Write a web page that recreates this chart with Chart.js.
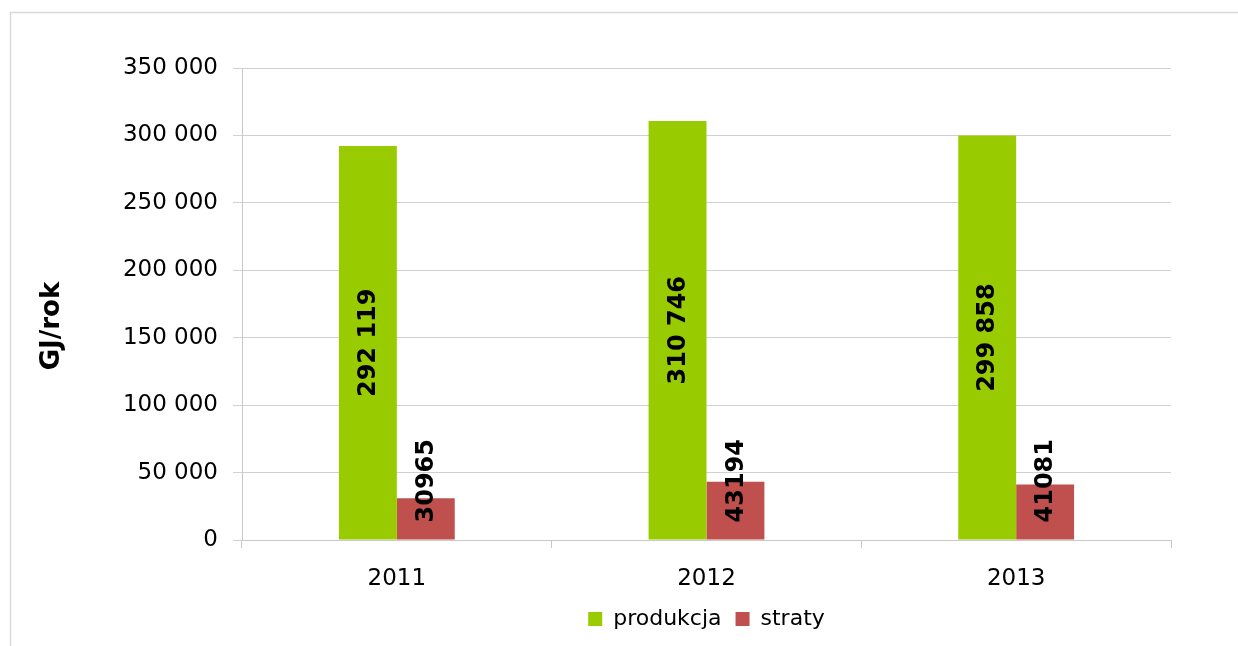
<!DOCTYPE html>
<html>
<head>
<meta charset="utf-8">
<script src="https://cdn.jsdelivr.net/npm/chart.js@4/dist/chart.umd.min.js"></script>
<style>
  body { margin: 0; background: #fff; }
  #wrap { width: 1238px; height: 646px; }
</style>
</head>
<body>
<div id="wrap"><canvas id="myChart" width="1238" height="646"></canvas></div>
<script>
const years = ['2011', '2012', '2013'];
const produkcja = [292119, 310746, 299858];
const straty = [30965, 43194, 41081];
const yTicks = [0, 50000, 100000, 150000, 200000, 250000, 300000, 350000];
const yTitle = 'GJ/rok';

function spaced(v){
    return v.toString().replace(/\B(?=(\d{3})+(?!\d))/g, ' ');
}

// outer frame of the chart object + y axis title
const framePlugin = {
    id: 'frame',
    beforeDraw(chart){
        const ctx = chart.ctx;
        ctx.save();
        ctx.strokeStyle = '#d9d9d9';
        ctx.lineWidth = 1.5;
        ctx.strokeRect(10.5, 12.5, 1400, 800);
        ctx.restore();
    },
    afterDraw(chart){
        const ctx = chart.ctx;
        const area = chart.chartArea;
        ctx.save();
        ctx.font = 'bold 26px "DejaVu Sans"';
        ctx.fillStyle = '#000';
        ctx.textAlign = 'center';
        ctx.textBaseline = 'middle';
        ctx.translate(52, (area.top + area.bottom) / 2 + 22);
        ctx.rotate(-Math.PI / 2);
        ctx.fillText(yTitle, 0, 0);
        ctx.restore();
    }
};

// rotated data labels
const labelPlugin = {
    id: 'barLabels',
    afterDatasetsDraw(chart){
        const ctx = chart.ctx;
        ctx.save();
        ctx.font = 'bold 24px "DejaVu Sans"';
        ctx.fillStyle = '#000';
        ctx.textAlign = 'center';
        ctx.textBaseline = 'middle';
        chart.data.datasets.forEach((ds, i) => {
            chart.getDatasetMeta(i).data.forEach((bar, j) => {
                const txt = i == 0 ? spaced(ds.data[j]) : String(ds.data[j]);
                const w = ctx.measureText(txt).width;
                let cy;
                if (i == 0){
                    cy = (bar.y + bar.base) / 2;
                } else {
                    cy = bar.base - 17 - w / 2;
                }
                ctx.save();
                ctx.translate(bar.x + 1, cy);
                ctx.rotate(-Math.PI / 2);
                ctx.fillText(txt, 0, 0);
                ctx.restore();
            });
        });
        ctx.restore();
    }
};

const ctx = document.getElementById('myChart').getContext('2d');
myChart = new Chart(ctx, {
    type: 'bar',
    data: {
        labels: years,
        datasets: [{
            label: 'produkcja',
            data: produkcja,
            backgroundColor: '#99CC00',
            categoryPercentage: 0.374,
            barPercentage: 1
        }, {
            label: 'straty',
            data: straty,
            backgroundColor: '#C0504D',
            categoryPercentage: 0.374,
            barPercentage: 1
        }]
    },
    plugins: [framePlugin, labelPlugin],
    options: {
        responsive: false,
        animation: false,
        layout: {
            padding: { left: 10, right: 67, top: 68, bottom: 6 }
        },
        plugins: {
            tooltip: { enabled: false },
            legend: {
                position: 'bottom',
                fullSize: false,
                labels: {
                    color: '#000',
                    boxWidth: 14,
                    boxHeight: 14,
                    padding: 14,
                    font: { family: 'DejaVu Sans', size: 22 }
                }
            }
        },
        scales: {
            x: {
                grid: {
                    drawOnChartArea: false,
                    color: '#c8c8c8',
                    tickLength: 8
                },
                border: { color: '#c8c8c8' },
                ticks: {
                    color: '#000',
                    padding: 17,
                    font: { family: 'DejaVu Sans', size: 23 }
                },
                afterFit(scale){ scale.height = 54; }
            },
            y: {
                min: 0,
                max: 350000,
                afterBuildTicks(scale){
                    scale.ticks = yTicks.map(v => ({ value: v }));
                },
                grid: {
                    color: '#d0d0d0',
                    tickLength: 9
                },
                border: { color: '#c8c8c8' },
                ticks: {
                    color: '#000',
                    padding: 15,
                    font: { family: 'DejaVu Sans', size: 23 },
                    callback: v => spaced(v)
                },
                afterFit(scale){ scale.width = 232; }
            }
        }
    }
});
</script>
</body>
</html>
